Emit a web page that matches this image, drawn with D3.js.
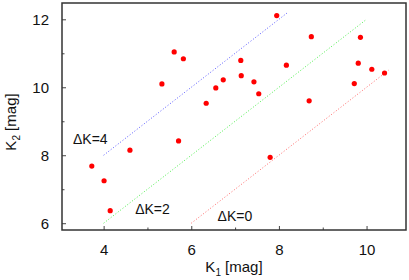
<!DOCTYPE html>
<html>
<head>
<meta charset="utf-8">
<script src="https://cdn.jsdelivr.net/npm/d3@7"></script>
<style>
  body { margin: 0; background: #fff; }
  text { font-family: "Liberation Sans", Arial, sans-serif; }
</style>
</head>
<body>
<div id="wrapper"></div>
<script>
// data
const k1 = [5.61, 5.82, 5.33, 6.34, 7.95, 8.74, 9.86, 7.13, 8.17, 9.81, 10.12, 10.41, 6.73,
            7.14, 7.43, 6.56, 7.54, 9.72, 8.69, 5.71, 4.60, 3.73, 4.01, 4.15, 7.80];
const k2 = [11.04, 10.84, 10.10, 9.53, 12.11, 11.49, 11.47, 10.79, 10.65, 10.71, 10.53, 10.42, 10.22,
            10.34, 10.16, 9.98, 9.81, 10.11, 9.60, 8.42, 8.15, 7.68, 7.25, 6.37, 7.94];

// reference lines K2 = K1 + dK
const deltaK = [4, 2, 0];
const lineStart = [4, 4, 6];
const lineEnd = [8.2, 10, 10.5];
const lineColors = ["#5a5aff", "#4cf04c", "#ff6a6a"];
const labelPos = [[3.3, 8.32], [4.72, 6.28], [6.6, 6.06]];

const xTicks = [4, 6, 8, 10];
const yTicks = [6, 8, 10, 12];
const xMinor = [5, 7, 9];
const yMinor = [7, 9, 11];

const dataset = k1.map((d, i) => ({ x: d, y: k2[i] }));

// dimensions
let dimensions = {
  width: 409,
  height: 280,
  marginTop: 3,
  marginRight: 3,
  marginBottom: 50,
  marginLeft: 62
};
dimensions.boundedWidth = dimensions.width - dimensions.marginLeft - dimensions.marginRight;
dimensions.boundedHeight = dimensions.height - dimensions.marginTop - dimensions.marginBottom;

const wrapper = d3.select("#wrapper")
  .append("svg")
    .attr("width", dimensions.width)
    .attr("height", dimensions.height);

const bounds = wrapper.append("g")
    .attr("transform", `translate(${dimensions.marginLeft},${dimensions.marginTop})`);

// scales
const xScale = d3.scaleLinear()
  .domain([3.05, 10.9])
  .range([0, dimensions.boundedWidth]);

const yScale = d3.scaleLinear()
  .domain([5.8, 12.48])
  .range([dimensions.boundedHeight, 0]);

// reference lines
deltaK.forEach((dk, i) => {
  bounds.append("line")
    .attr("x1", xScale(lineStart[i]))
    .attr("y1", yScale(lineStart[i] + dk))
    .attr("x2", xScale(lineEnd[i]))
    .attr("y2", yScale(lineEnd[i] + dk))
    .attr("stroke", lineColors[i])
    .attr("stroke-width", 1)
    .attr("stroke-dasharray", "1,2");

  bounds.append("text")
    .attr("x", xScale(labelPos[i][0]))
    .attr("y", yScale(labelPos[i][1]))
    .attr("font-size", 14)
    .attr("fill", "#111")
    .text(`ΔK=${dk}`);
});

// points
bounds.selectAll("circle")
    .data(dataset)
  .enter().append("circle")
    .attr("cx", d => xScale(d.x))
    .attr("cy", d => yScale(d.y))
    .attr("r", 2.6)
    .attr("fill", "#ff0000");

// axes (ticks point inward)
bounds.append("g")
  .attr("transform", `translate(0,${dimensions.boundedHeight})`)
  .call(d3.axisBottom(xScale).tickValues(xTicks).tickSize(-4).tickPadding(14).tickFormat(d3.format("d")));

bounds.append("g")
  .attr("transform", `translate(0,${dimensions.boundedHeight})`)
  .call(d3.axisBottom(xScale).tickValues(xMinor).tickSize(-2.5).tickFormat(""));

bounds.append("g")
  .call(d3.axisLeft(yScale).tickValues(yTicks).tickSize(-4).tickPadding(13).tickFormat(d3.format("d")));

bounds.append("g")
  .call(d3.axisLeft(yScale).tickValues(yMinor).tickSize(-2.5).tickFormat(""));

bounds.selectAll(".domain").remove();
bounds.selectAll(".tick line").attr("stroke", "#444").attr("stroke-width", 1);
bounds.selectAll(".tick text")
  .attr("font-size", 15)
  .attr("fill", "#111")
  .attr("font-family", "Liberation Sans, Arial, sans-serif");

// frame
bounds.append("rect")
  .attr("width", dimensions.boundedWidth)
  .attr("height", dimensions.boundedHeight)
  .attr("fill", "none")
  .attr("stroke", "#333")
  .attr("stroke-width", 1.5);

// axis labels
const xLabel = wrapper.append("text")
  .attr("x", 234)
  .attr("y", 272)
  .attr("text-anchor", "middle")
  .attr("font-size", 15)
  .attr("fill", "#111");
xLabel.append("tspan").text("K");
xLabel.append("tspan").attr("font-size", 10).attr("dy", 4).text("1");
xLabel.append("tspan").attr("dy", -4).text(" [mag]");

const yLabel = wrapper.append("text")
  .attr("transform", "translate(16,122) rotate(-90)")
  .attr("text-anchor", "middle")
  .attr("font-size", 15)
  .attr("fill", "#111");
yLabel.append("tspan").text("K");
yLabel.append("tspan").attr("font-size", 10).attr("dy", 4).text("2");
yLabel.append("tspan").attr("dy", -4).text(" [mag]");
</script>
</body>
</html>
